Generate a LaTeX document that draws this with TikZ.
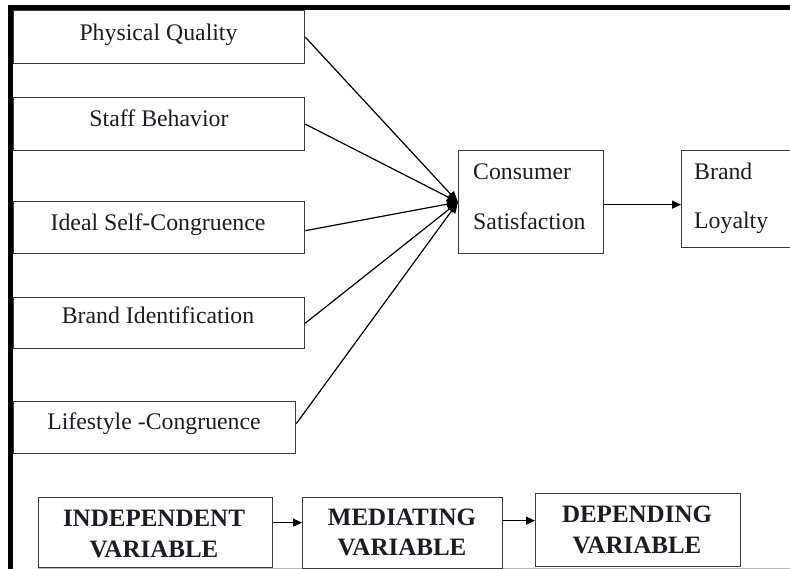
\documentclass[tikz,border=0pt]{standalone}
\usepackage{fontspec}
\setmainfont{Liberation Serif}
\usetikzlibrary{arrows.meta}
\definecolor{boxgray}{HTML}{3A3A3A}
\definecolor{ink}{HTML}{1C1C24}
\definecolor{edgegray}{HTML}{B8B8B8}
\begin{document}
\begin{tikzpicture}[x=1pt,y=-1pt,
  box/.style={draw=boxgray, line width=1.3pt, anchor=north west, inner sep=0pt},
  lbl/.style={anchor=base, text=ink, inner sep=0pt, font=\fontsize{23.8}{28}\selectfont},
  lbll/.style={lbl, anchor=base west},
  head/.style={anchor=base, text=ink, inner sep=0pt, font=\bfseries\fontsize{25}{30}\selectfont},
  conv/.style={line width=1.2pt, -{Triangle[length=11pt,width=9pt]}},
  arr/.style={line width=1.2pt, -{Triangle[length=9pt,width=8pt]}}
]
\useasboundingbox (0,0) rectangle (790,569);

% heavy frame along the top and left edges
\fill[black] (8,5) rectangle (790,10);
\fill[black] (8,5) rectangle (13,569);

% independent variables
\node[box, minimum width=291pt, minimum height=53pt] (pq) at (13,10) {};
\node[lbl] (pqt) at (158.5,41) {Physical Quality};
\node[box, minimum width=291pt, minimum height=53pt] (sb) at (13,97) {};
\node[lbl] (sbt) at (159,127) {Staff Behavior};
\node[box, minimum width=291pt, minimum height=52pt] (isc) at (13,201) {};
\node[lbl] (isct) at (158,231) {Ideal Self-Congruence};
\node[box, minimum width=291pt, minimum height=51pt] (bi) at (13,297) {};
\node[lbl] (bit) at (158,324) {Brand Identification};
\node[box, minimum width=282pt, minimum height=52pt] (lc) at (13,401) {};
\node[lbl] (lct) at (154,429) {Lifestyle -Congruence};

% mediating and dependent variables
\node[box, minimum width=145pt, minimum height=103pt] (cs) at (458,150) {};
\node[lbll] (cst1) at (473,180) {Consumer};
\node[lbll] (cst2) at (473,230) {Satisfaction};
\node[box, minimum width=120pt, minimum height=97pt] (bl) at (681,150) {};
\node[lbll] (blt1) at (694,180) {Brand};
\node[lbll] (blt2) at (694,229) {Loyalty};

% paths into consumer satisfaction
\draw[conv] (pq.east) -- (cs.west);
\draw[conv] (sb.east) -- (cs.west);
\draw[conv] ([yshift=-3pt]isc.east) -- (cs.west);
\draw[conv] (bi.east) -- (cs.west);
\draw[conv] ([yshift=4pt]lc.east) -- (cs.west);

\coordinate (csout) at ([yshift=-2.5pt]cs.east);
\draw[arr] (csout) -- (csout -| bl.west);

% legend row
\draw[edgegray, line width=0.8pt] (38,568) -- (790,568);
\node[box, minimum width=234pt, minimum height=70pt] (iv) at (38,497) {};
\node[head] (ivt1) at (154,526) {INDEPENDENT};
\node[head] (ivt2) at (154,557) {VARIABLE};
\node[box, minimum width=200pt, minimum height=71pt] (mv) at (302,497) {};
\node[head] (mvt1) at (402,525) {MEDIATING};
\node[head] (mvt2) at (402,555) {VARIABLE};
\node[box, minimum width=205pt, minimum height=73pt] (dv) at (535,493) {};
\node[head] (dvt1) at (637,522) {DEPENDING};
\node[head] (dvt2) at (637,553) {VARIABLE};

\coordinate (ivout) at ([yshift=10pt]iv.east);
\draw[arr] (ivout) -- (ivout -| mv.west);
\coordinate (mvout) at ([yshift=12.5pt]mv.east);
\draw[arr] (mvout) -- (mvout -| dv.west);
\end{tikzpicture}
\end{document}
